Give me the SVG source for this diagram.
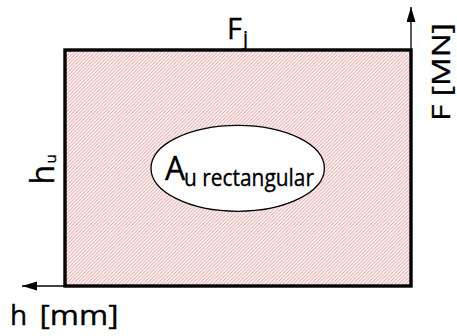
<svg xmlns="http://www.w3.org/2000/svg" width="457" height="336" viewBox="0 0 457 336">
  <style>
    text { font-family: "Open Sans", "Liberation Sans", sans-serif; fill: #000; stroke: #000; stroke-width: 0.35; }
    .axis { stroke: #000; stroke-width: 1.3; fill: none; }
    .frame { stroke: #000; stroke-width: 3.4; fill: url(#hatch); }
  </style>
  <defs>
    <pattern id="hatch" patternUnits="userSpaceOnUse" width="3.5" height="3.5">
      <rect width="3.5" height="3.5" fill="#ffffff"/>
      <path d="M-1,1 L1,-1 M0,3.5 L3.5,0 M2.5,4.5 L4.5,2.5" stroke="#e3a0a0" stroke-width="1"/>
    </pattern>
    <marker id="arrow" markerUnits="userSpaceOnUse" markerWidth="16" markerHeight="10" refX="15" refY="4.5" orient="auto">
      <path d="M0,0 L15,4.5 L0,9 Z" fill="#000"/>
    </marker>
  </defs>

  <g id="area">
    <rect class="frame" x="65" y="50" width="346" height="236"/>
  </g>

  <g id="connectors">
    <line class="axis" x1="411" y1="52" x2="411" y2="7" marker-end="url(#arrow)"/>
    <line class="axis" x1="64" y1="286" x2="22" y2="286" marker-end="url(#arrow)"/>
  </g>

  <g id="ellipse-node">
    <ellipse cx="237.7" cy="168.3" rx="86.7" ry="43" fill="#ffffff" stroke="#000" stroke-width="1.3"/>
    <text x="165" y="180" font-size="32">A<tspan x="184" y="186" font-size="23" textLength="130" lengthAdjust="spacingAndGlyphs">u rectangular</tspan></text>
  </g>

  <g id="label-Fj">
    <text x="227" y="39" font-size="29">F<tspan x="243" y="45" font-size="20">j</tspan></text>
  </g>

  <g id="label-hu">
    <text transform="translate(53.7,184.5) rotate(-90)" x="0" y="0" font-size="32">h<tspan x="21" y="2" font-size="15">u</tspan></text>
  </g>

  <g id="label-F-axis">
    <text transform="translate(450,119) rotate(-90)" x="-2" y="0" font-size="25" textLength="98" lengthAdjust="spacingAndGlyphs">F [MN]</text>
  </g>

  <g id="label-h-axis">
    <text x="10" y="325" font-size="28">h<tspan x="39.5" textLength="79" lengthAdjust="spacingAndGlyphs">[mm]</tspan></text>
  </g>
</svg>
